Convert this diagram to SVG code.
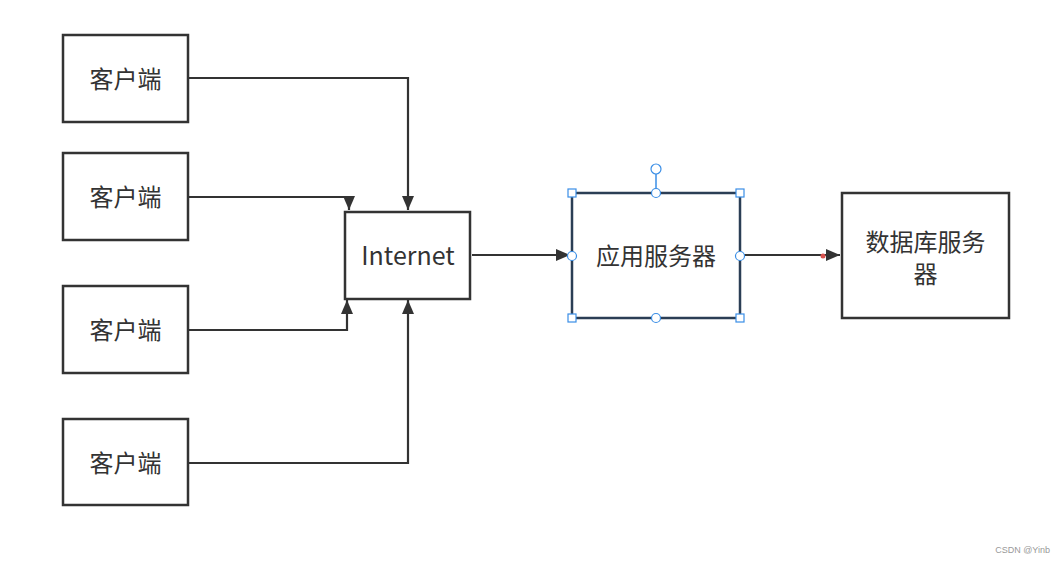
<svg xmlns="http://www.w3.org/2000/svg" width="1064" height="563" viewBox="0 0 1064 563">
<defs>
<style>
.box{fill:#fff;stroke:#333;stroke-width:2.5}
.sel{fill:#fff;stroke:#2b3e55;stroke-width:2.5}
.t{font-family:"Noto Sans CJK SC","Noto Sans",sans-serif;font-size:24px;fill:#333;text-anchor:middle;dominant-baseline:central}
.ln{fill:none;stroke:#333;stroke-width:2.2}
.h{fill:#fff;stroke:#3a8ee6;stroke-width:1.2}
</style>
<marker id="ah2" viewBox="0 0 10 10" refX="10" refY="5" markerWidth="14" markerHeight="12" markerUnits="userSpaceOnUse" orient="auto" preserveAspectRatio="none">
<path d="M0,0 L10,5 L0,10 z" fill="#333"/>
</marker>
</defs>
<rect width="1064" height="563" fill="#fff"/>
<g id="connectors">
<path class="ln" d="M188,78 L408,78 L408,210" marker-end="url(#ah2)"/>
<path class="ln" d="M188,197 L349,197 L349,210" marker-end="url(#ah2)"/>
<path class="ln" d="M188,330 L347,330 L347,300" marker-end="url(#ah2)"/>
<path class="ln" d="M188,463 L408,463 L408,300" marker-end="url(#ah2)"/>
<path class="ln" d="M472,255 L570,255" marker-end="url(#ah2)"/>
<path class="ln" d="M740,255 L840,255" marker-end="url(#ah2)"/>
<circle cx="823" cy="256" r="2.5" fill="#d9534f"/>
</g>
<g id="client1"><rect class="box" x="63" y="35" width="125" height="87"/><text class="t" x="125.5" y="77">客户端</text></g>
<g id="client2"><rect class="box" x="63" y="153" width="125" height="87"/><text class="t" x="125.5" y="195">客户端</text></g>
<g id="client3"><rect class="box" x="63" y="286" width="125" height="87"/><text class="t" x="125.5" y="328">客户端</text></g>
<g id="client4"><rect class="box" x="63" y="419" width="125" height="86"/><text class="t" x="125.5" y="461">客户端</text></g>
<g id="internet"><rect class="box" x="345" y="212" width="125" height="87"/><text class="t" x="408" y="254" style="font-size:25px">Internet</text></g>
<g id="appserver">
<rect class="sel" x="572" y="193" width="168" height="125"/>
<text class="t" x="656" y="254">应用服务器</text>
<line x1="656" y1="174" x2="656" y2="193" stroke="#3a8ee6" stroke-width="1.5"/>
<circle class="h" cx="656" cy="169" r="5"/>
<rect class="h" x="568" y="189" width="8" height="8"/>
<rect class="h" x="736" y="189" width="8" height="8"/>
<rect class="h" x="568" y="314" width="8" height="8"/>
<rect class="h" x="736" y="314" width="8" height="8"/>
<circle class="h" cx="656" cy="193" r="4.5"/>
<circle class="h" cx="656" cy="318" r="4.5"/>
<circle class="h" cx="572" cy="256" r="4.5"/>
<circle class="h" cx="740" cy="256" r="4.5"/>
</g>
<g id="dbserver"><rect class="box" x="842" y="193" width="167" height="125"/><text class="t" x="925.5" y="240">数据库服务</text><text class="t" x="925.5" y="272">器</text></g>
<text x="1050" y="553" font-family="Liberation Sans,sans-serif" font-size="9" fill="#999" text-anchor="end">CSDN @Yinb</text>
</svg>
